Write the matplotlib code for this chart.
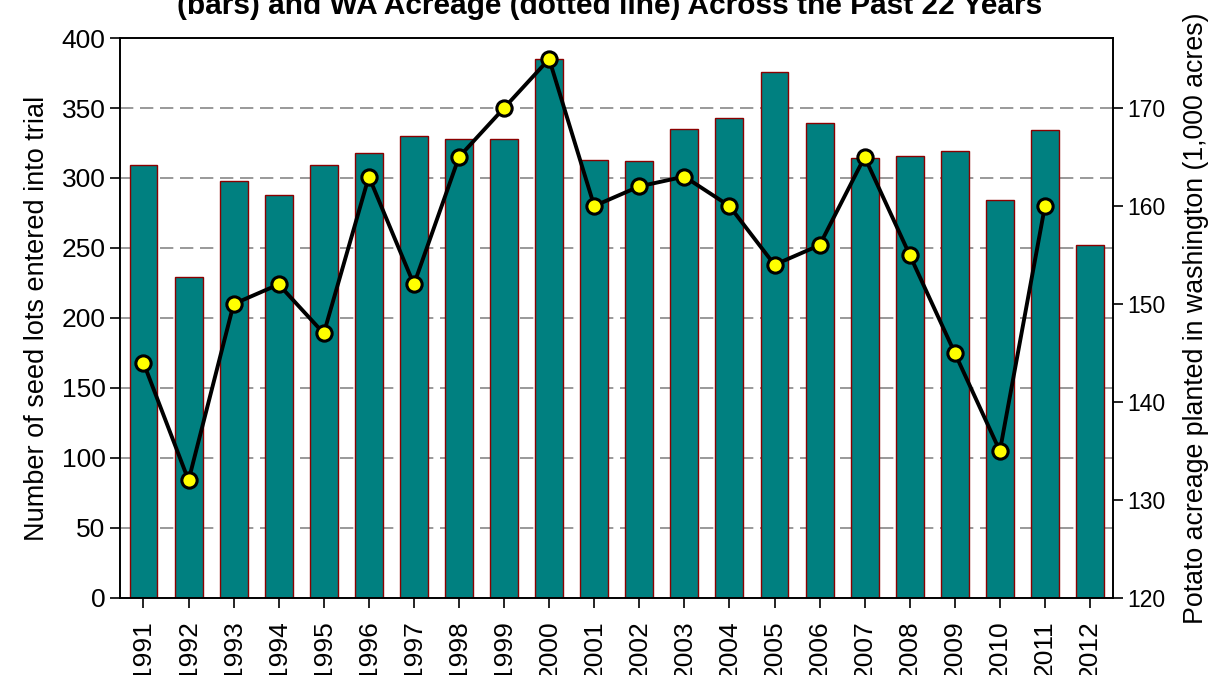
import matplotlib.pyplot as plt
import numpy as np

plt.rcParams['font.family'] = ['Liberation Sans', 'DejaVu Sans']

years = [str(y) for y in range(1991, 2013)]
seed_lots = [309, 229, 298, 288, 309, 318, 330, 328, 328, 385, 313,
             312, 335, 343, 376, 339, 314, 316, 319, 284, 334, 252]
acreage = [144, 132, 150, 152, 147, 163, 152, 165, 170, 175, 160,
           162, 163, 160, 154, 156, 165, 155, 145, 135, 160]

x = np.arange(len(years))

fig = plt.figure(figsize=(12.2, 6.75), dpi=100)
ax = fig.add_axes([0.0984, 0.1141, 0.8139, 0.8296])

ax.bar(x, seed_lots, width=0.62, color='#008080', edgecolor='#8b0000',
       linewidth=1, zorder=2)
ax.set_ylim(0, 400)
ax.set_xlim(-0.52, len(years) - 0.49)
ax.set_yticks(range(0, 401, 50))
ax.set_xticks(x)
ax.set_xticklabels(years, rotation=90, fontsize=19)
ax.tick_params(axis='y', labelsize=19, length=7, width=1.2)
ax.tick_params(axis='x', length=7, width=1.2, pad=9)
for y in range(50, 400, 50):
    ax.axhline(y, color='#888888', lw=1.2, ls=(0, (8, 4)), zorder=1)
ax.set_ylabel('Number of seed lots entered into trial', fontsize=19.5,
              labelpad=8)
for s in ax.spines.values():
    s.set_linewidth(1.2)

ax2 = ax.twinx()
ax2.set_ylim(120, 120 + 400 * 50 / 350)
ax2.set_yticks(range(120, 171, 10))
ax2.plot(x[:len(acreage)], acreage, color='black', lw=2.8, marker='o',
         markersize=11, markerfacecolor='#ffff00', markeredgecolor='black',
         markeredgewidth=2.2, zorder=5)
ax2.tick_params(axis='y', labelsize=16.5, length=7, width=1.2)
ax2.set_ylabel('Potato acreage planted in washington (1,000 acres)',
               fontsize=19.3, labelpad=12)
for s in ax2.spines.values():
    s.set_linewidth(1.2)

fig.text(0.5, 0.979, '(bars) and WA Acreage (dotted line) Across the Past 22 Years',
         ha='center', va='baseline', fontsize=21.5, fontweight='bold')

fig.savefig('out.png', dpi=100)
